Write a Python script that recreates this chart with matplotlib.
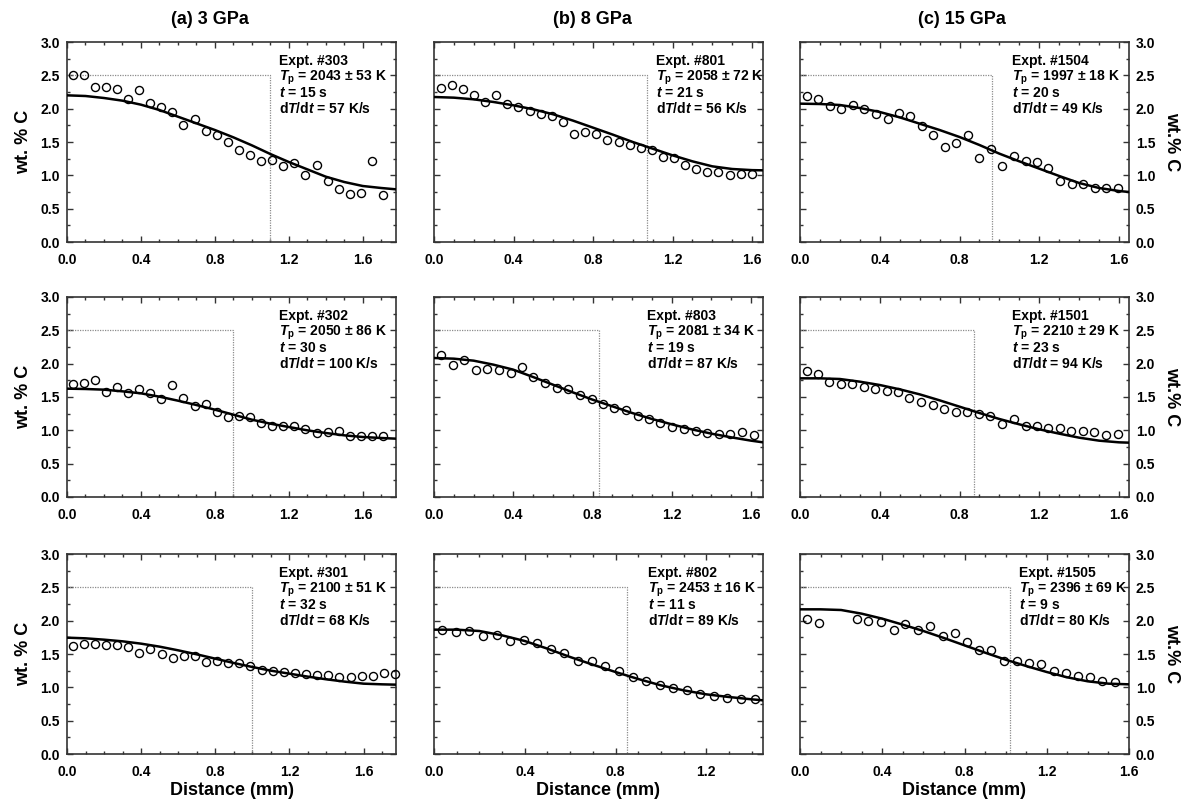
import matplotlib
matplotlib.use("Agg")
import matplotlib.pyplot as plt
from matplotlib.ticker import MultipleLocator, FormatStrFormatter

plt.rcParams["font.family"] = ["Liberation Sans", "DejaVu Sans"]
plt.rcParams["font.weight"] = "bold"
plt.rcParams["axes.labelweight"] = "bold"
plt.rcParams["mathtext.fontset"] = "custom"
plt.rcParams["mathtext.rm"] = "Liberation Sans:bold"
plt.rcParams["mathtext.it"] = "Liberation Sans:italic:bold"
plt.rcParams["mathtext.bf"] = "Liberation Sans:bold"

# ---- data ----
# curve x grid (mm) shared by the fitted profiles
fit_x = [0.0, 0.1, 0.2, 0.3, 0.4, 0.5, 0.6, 0.7, 0.8, 0.9, 1.0, 1.1, 1.2, 1.3, 1.4, 1.5, 1.6]

# row 1
a1_x = [0.03, 0.09, 0.15, 0.21, 0.27, 0.33, 0.39, 0.45, 0.51, 0.57, 0.63, 0.69, 0.75, 0.81, 0.87,
        0.93, 0.99, 1.05, 1.11, 1.17, 1.23, 1.29, 1.35, 1.41, 1.47, 1.53, 1.59, 1.65, 1.71]
a1_y = [2.50, 2.51, 2.33, 2.33, 2.30, 2.14, 2.28, 2.09, 2.03, 1.95, 1.75, 1.84, 1.67, 1.60, 1.50,
        1.38, 1.30, 1.22, 1.23, 1.14, 1.18, 1.00, 1.15, 0.92, 0.80, 0.72, 0.73, 1.21, 0.71]
a1_fx = fit_x + [1.7, 1.78]
a1_fy = [2.20, 2.19, 2.16, 2.12, 2.06, 1.98, 1.88, 1.78, 1.68, 1.57, 1.45, 1.32, 1.20, 1.09, 0.98,
         0.90, 0.84, 0.81, 0.79]

b1_x = [0.034, 0.089, 0.145, 0.200, 0.258, 0.313, 0.369, 0.424, 0.481, 0.537, 0.593, 0.648, 0.704,
        0.761, 0.816, 0.872, 0.929, 0.985, 1.040, 1.096, 1.152, 1.207, 1.263, 1.320, 1.375, 1.431,
        1.487, 1.544, 1.599]
b1_y = [2.31, 2.36, 2.29, 2.20, 2.10, 2.20, 2.075, 2.03, 1.97, 1.92, 1.885, 1.80, 1.62, 1.645, 1.615,
        1.535, 1.495, 1.46, 1.415, 1.385, 1.275, 1.265, 1.16, 1.09, 1.045, 1.045, 1.01, 1.025, 1.025]
b1_fx = fit_x + [1.655]
b1_fy = [2.175, 2.165, 2.14, 2.10, 2.05, 1.99, 1.915, 1.82, 1.715, 1.61, 1.50, 1.40, 1.30, 1.21,
         1.135, 1.095, 1.078, 1.075]

c1_x = [0.034, 0.092, 0.151, 0.208, 0.265, 0.323, 0.380, 0.439, 0.496, 0.553, 0.611, 0.668, 0.727,
        0.784, 0.843, 0.899, 0.958, 1.015, 1.074, 1.131, 1.189, 1.246, 1.305, 1.363, 1.420, 1.479,
        1.536, 1.595]
c1_y = [2.19, 2.14, 2.035, 2.0, 2.055, 2.0, 1.915, 1.84, 1.94, 1.89, 1.735, 1.61, 1.425, 1.49, 1.605,
        1.265, 1.39, 1.145, 1.285, 1.22, 1.195, 1.115, 0.915, 0.875, 0.875, 0.815, 0.815, 0.815]
c1_fx = fit_x + [1.65]
c1_fy = [2.075, 2.07, 2.055, 2.01, 1.95, 1.87, 1.775, 1.68, 1.575, 1.455, 1.325, 1.21, 1.10, 0.99,
         0.885, 0.81, 0.765, 0.75]

# row 2
a2_x = a1_x
a2_y = [1.70, 1.71, 1.75, 1.57, 1.645, 1.56, 1.62, 1.565, 1.47, 1.68, 1.49, 1.37, 1.39, 1.27, 1.195,
        1.215, 1.20, 1.105, 1.07, 1.07, 1.06, 1.02, 0.96, 0.98, 0.99, 0.92, 0.91, 0.91, 0.92]
a2_fx = fit_x + [1.7, 1.78]
a2_fy = [1.625, 1.62, 1.61, 1.585, 1.555, 1.505, 1.445, 1.38, 1.31, 1.235, 1.16, 1.10, 1.05, 1.00,
         0.96, 0.925, 0.90, 0.885, 0.875]

b2_x = [0.034, 0.094, 0.152, 0.212, 0.269, 0.327, 0.386, 0.443, 0.502, 0.559, 0.620, 0.678, 0.736,
        0.795, 0.852, 0.909, 0.968, 1.027, 1.084, 1.141, 1.202, 1.259, 1.320, 1.377, 1.438, 1.495,
        1.554, 1.613]
b2_y = [2.13, 1.98, 2.06, 1.91, 1.925, 1.91, 1.86, 1.95, 1.80, 1.715, 1.635, 1.625, 1.53, 1.465, 1.39,
        1.335, 1.30, 1.21, 1.17, 1.105, 1.05, 1.02, 0.99, 0.96, 0.95, 0.95, 0.97, 0.925]
b2_fx = fit_x + [1.66]
b2_fy = [2.085, 2.075, 2.045, 1.985, 1.91, 1.80, 1.685, 1.57, 1.46, 1.36, 1.26, 1.17, 1.09, 1.015,
         0.95, 0.895, 0.845, 0.82]

c2_x = [0.034, 0.092, 0.147, 0.204, 0.261, 0.320, 0.377, 0.434, 0.491, 0.549, 0.606, 0.665, 0.722,
        0.781, 0.838, 0.896, 0.955, 1.013, 1.072, 1.131, 1.188, 1.245, 1.302, 1.360, 1.419, 1.476,
        1.534, 1.593]
c2_y = [1.89, 1.84, 1.72, 1.70, 1.69, 1.655, 1.615, 1.585, 1.57, 1.48, 1.42, 1.375, 1.32, 1.28, 1.28,
        1.24, 1.21, 1.09, 1.17, 1.06, 1.07, 1.03, 1.03, 0.99, 0.99, 0.97, 0.93, 0.945]
c2_fx = fit_x + [1.65]
c2_fy = [1.78, 1.78, 1.77, 1.73, 1.68, 1.615, 1.54, 1.45, 1.355, 1.26, 1.17, 1.09, 1.015, 0.95,
         0.89, 0.845, 0.82, 0.815]

# row 3
a3_x = a1_x + [1.77]
a3_y = [1.625, 1.655, 1.655, 1.635, 1.64, 1.605, 1.515, 1.575, 1.505, 1.435, 1.465, 1.47, 1.385, 1.39,
        1.365, 1.365, 1.32, 1.255, 1.25, 1.235, 1.215, 1.195, 1.18, 1.18, 1.15, 1.15, 1.175, 1.175,
        1.215, 1.205]
a3_fx = fit_x + [1.7, 1.775]
a3_fy = [1.745, 1.735, 1.715, 1.69, 1.655, 1.61, 1.555, 1.495, 1.43, 1.365, 1.305, 1.25, 1.205,
         1.16, 1.12, 1.085, 1.055, 1.045, 1.04]

b3_x = [0.034, 0.096, 0.156, 0.216, 0.276, 0.335, 0.396, 0.456, 0.516, 0.575, 0.635, 0.696, 0.754,
        0.815, 0.875, 0.935, 0.994, 1.053, 1.113, 1.174, 1.234, 1.293, 1.353, 1.413]
b3_y = [1.865, 1.825, 1.84, 1.77, 1.79, 1.69, 1.705, 1.67, 1.57, 1.515, 1.39, 1.395, 1.325, 1.245,
        1.155, 1.10, 1.035, 0.99, 0.955, 0.90, 0.865, 0.84, 0.825, 0.825]
b3_fx = fit_x[:15] + [1.45]
b3_fy = [1.865, 1.865, 1.845, 1.78, 1.695, 1.58, 1.455, 1.34, 1.23, 1.125, 1.03, 0.955, 0.895,
         0.855, 0.82, 0.805]

c3_x = [0.036, 0.094, 0.276, 0.333, 0.393, 0.455, 0.513, 0.573, 0.634, 0.694, 0.754, 0.812, 0.872,
        0.931, 0.991, 1.053, 1.114, 1.174, 1.235, 1.293, 1.352, 1.410, 1.470, 1.532]
c3_y = [2.03, 1.97, 2.025, 1.995, 1.98, 1.865, 1.955, 1.855, 1.92, 1.765, 1.82, 1.68, 1.565, 1.555,
        1.39, 1.39, 1.365, 1.355, 1.245, 1.215, 1.165, 1.155, 1.09, 1.08]
c3_fx = fit_x
c3_fy = [2.17, 2.17, 2.16, 2.105, 2.03, 1.94, 1.845, 1.74, 1.63, 1.52, 1.415, 1.32, 1.23, 1.15,
         1.09, 1.055, 1.045]

# axis extents, initial-step half widths, annotation values
x_max = [[1.78, 1.655, 1.65], [1.78, 1.66, 1.65], [1.775, 1.45, 1.6]]
step_x = [[1.10, 1.07, 0.965], [0.90, 0.83, 0.875], [1.00, 0.85, 1.02]]
expt = [["303", "801", "1504"], ["302", "803", "1501"], ["301", "802", "1505"]]
temp = [["2043 ± 53", "2058 ± 72", "1997 ± 18"], ["2050 ± 86", "2081 ± 34", "2210 ± 29"],
        ["2100 ± 51", "2453 ± 16", "2396 ± 69"]]
dur = [["15", "21", "20"], ["30", "19", "23"], ["32", "11", "9"]]
rate = [["57", "56", "49"], ["100", "87", "94"], ["68", "89", "80"]]
titles = ["(a) 3 GPa", "(b) 8 GPa", "(c) 15 GPa"]

pts = [[(a1_x, a1_y), (b1_x, b1_y), (c1_x, c1_y)],
       [(a2_x, a2_y), (b2_x, b2_y), (c2_x, c2_y)],
       [(a3_x, a3_y), (b3_x, b3_y), (c3_x, c3_y)]]
fits = [[(a1_fx, a1_fy), (b1_fx, b1_fy), (c1_fx, c1_fy)],
        [(a2_fx, a2_fy), (b2_fx, b2_fy), (c2_fx, c2_fy)],
        [(a3_fx, a3_fy), (b3_fx, b3_fy), (c3_fx, c3_fy)]]
text_x = [[0.645, 0.674, 0.643], [0.645, 0.646, 0.643], [0.645, 0.65, 0.667]]

W, H = 1204, 801
fig = plt.figure(figsize=(W / 100, H / 100), dpi=100)

col_left = [67, 434, 800]
row_top = [42, 297, 554]
aw, ah = 329, 200

for r in range(3):
    for c in range(3):
        ax = fig.add_axes([col_left[c] / W, 1 - (row_top[r] + ah) / H, aw / W, ah / H])
        px, py = pts[r][c]
        fx, fy = fits[r][c]
        xd = step_x[r][c]
        ax.plot([0, xd, xd], [2.5, 2.5, 0], color="#8c8c8c", lw=0.9, ls=(0, (1, 1)))
        ax.plot(fx, fy, color="black", lw=1.8, zorder=3, solid_joinstyle="round")
        ax.plot(px, py, "o", mfc="none", mec="black", mew=1.0, ms=5.8, zorder=4, clip_on=False)

        ax.set_xlim(0, x_max[r][c])
        ax.set_ylim(0, 3.0)
        ax.xaxis.set_major_locator(MultipleLocator(0.4))
        ax.xaxis.set_minor_locator(MultipleLocator(0.1))
        ax.yaxis.set_major_locator(MultipleLocator(0.5))
        ax.yaxis.set_minor_locator(MultipleLocator(0.25))
        ax.xaxis.set_major_formatter(FormatStrFormatter("%.1f"))
        ax.yaxis.set_major_formatter(FormatStrFormatter("%.1f"))
        ax.tick_params(which="both", direction="in", top=True, right=True, width=1.0,
                       colors="#333333", labelcolor="black", labelsize=10)
        ax.tick_params(which="major", length=4)
        ax.tick_params(which="minor", length=2.5)
        ax.tick_params(axis="x", pad=8)
        ax.tick_params(axis="y", pad=5)
        for s in ax.spines.values():
            s.set_linewidth(1.2)
            s.set_color("#333333")

        if c == 0:
            ax.set_ylabel("wt. % C", fontsize=13, labelpad=6)
        elif c == 1:
            ax.tick_params(labelleft=False)
        else:
            ax.tick_params(labelleft=False, labelright=True)
            ax.yaxis.set_label_position("right")
            ax.set_ylabel("wt.% C", fontsize=13, rotation=270, labelpad=18)
        if r == 2:
            ax.set_xlabel("Distance (mm)", fontsize=13, labelpad=2)

        lines = ["Expt. #" + expt[r][c],
                 "$T_{\\mathrm{p}}$ = " + temp[r][c] + " K",
                 "$t$ = " + dur[r][c] + " s",
                 "d$T$/d$t$ = " + rate[r][c] + " K/s"]
        for i, s in enumerate(lines):
            ax.text(text_x[r][c], 0.885 - i * 0.08, s, transform=ax.transAxes,
                    fontsize=10, fontweight="bold", va="baseline", ha="left")

title_x = [210, 592, 962]
for t, x in zip(titles, title_x):
    fig.text(x / W, 1 - 19 / H, t, fontsize=13, fontweight="bold", ha="center", va="center")

fig.savefig("out.png", dpi=100)
